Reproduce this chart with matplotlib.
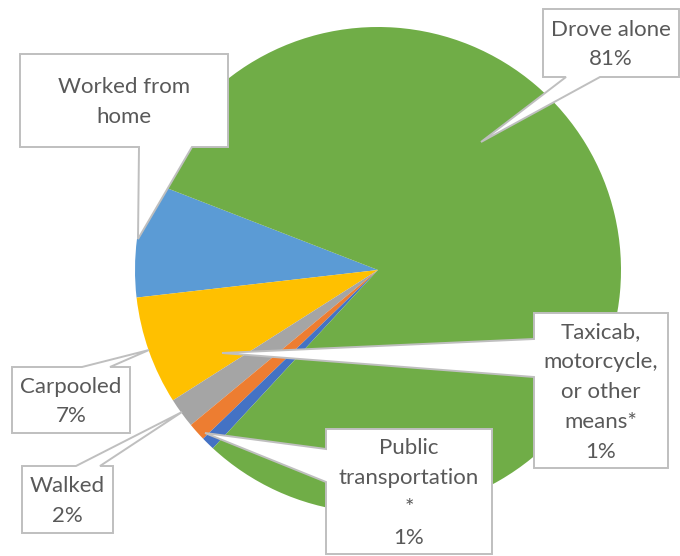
import matplotlib
matplotlib.use("Agg")
from matplotlib import pyplot as plt
from matplotlib.patches import Polygon

# slice data, counter-clockwise from the "Worked from home" edge
labels = ["Worked from home", "Carpooled", "Walked",
          "Public transportation", "Taxicab, motorcycle, or other means", "Drove alone"]
shares = [7.7, 7.2, 2.0, 1.2, 0.9, 81.0]
colors = ["#5B9BD5", "#FFC000", "#A5A5A5", "#ED7D31", "#4472C4", "#70AD47"]

# callout text per slice (Worked from home shows no percent)
callout_text = ["Worked from\nhome", "Carpooled\n7%", "Walked\n2%",
                "Public\ntransportation\n*\n1%",
                "Taxicab,\nmotorcycle,\nor other\nmeans*\n1%",
                "Drove alone\n81%"]

W, H = 680, 556
TEXT = "#595959"
EDGE = "#BFBFBF"


def px(x, y):
  # pixel (top-left origin) -> data coords
  return (x, H - y)


def callout(ax, box, side, base, tip, text):
  x0, y0, x1, y1 = box
  if side == "bottom":
    pts = [(x0, y0), (x1, y0), (x1, y1), (base[1], y1), tip, (base[0], y1), (x0, y1)]
  elif side == "top":
    pts = [(x0, y0), (base[0], y0), tip, (base[1], y0), (x1, y0), (x1, y1), (x0, y1)]
  else:  # left
    pts = [(x0, y0), (x1, y0), (x1, y1), (x0, y1), (x0, base[1]), tip, (x0, base[0])]
  poly = Polygon([px(*p) for p in pts], closed=True, facecolor="white",
                 edgecolor=EDGE, linewidth=1.4, zorder=5)
  ax.add_patch(poly)
  cx, cy = (x0 + x1) / 2, (y0 + y1) / 2
  ax.text(*px(cx, cy + 1.5), text, ha="center", va="center", color=TEXT,
          fontsize=16, family=["Lato", "DejaVu Sans"], linespacing=1.62, zorder=6)


def main():
  fig = plt.figure(figsize=(W / 100, H / 100), dpi=100)
  ax = fig.add_axes([0, 0, 1, 1])

  ax.pie(shares, colors=colors, startangle=158.8, counterclock=True,
         center=px(378, 270), radius=243, frame=True,
         wedgeprops={"linewidth": 0})
  ax.set_xlim(0, W)
  ax.set_ylim(0, H)
  ax.set_aspect("equal")
  ax.axis("off")

  # box (x0, y0, x1, y1), pointer side, pointer base, pointer tip in pixels
  layout = [
    ((20, 54, 228, 147), "bottom", (139, 192), (138, 239)),
    ((12, 367, 130, 433), "top", (82, 110), (149, 350)),
    ((22, 466, 113, 533), "top", (76, 100), (182, 412)),
    ((326, 429, 492, 554), "left", (449, 482), (205, 433)),
    ((534, 313, 668, 468), "left", (339, 377), (222, 353)),
    ((543, 9, 679, 77), "bottom", (566, 600), (481, 142)),
  ]
  for (box, side, base, tip), text in zip(layout, callout_text):
    callout(ax, box, side, base, tip, text)

  fig.savefig("out.png", dpi=100)


if __name__ == "__main__":
  main()
